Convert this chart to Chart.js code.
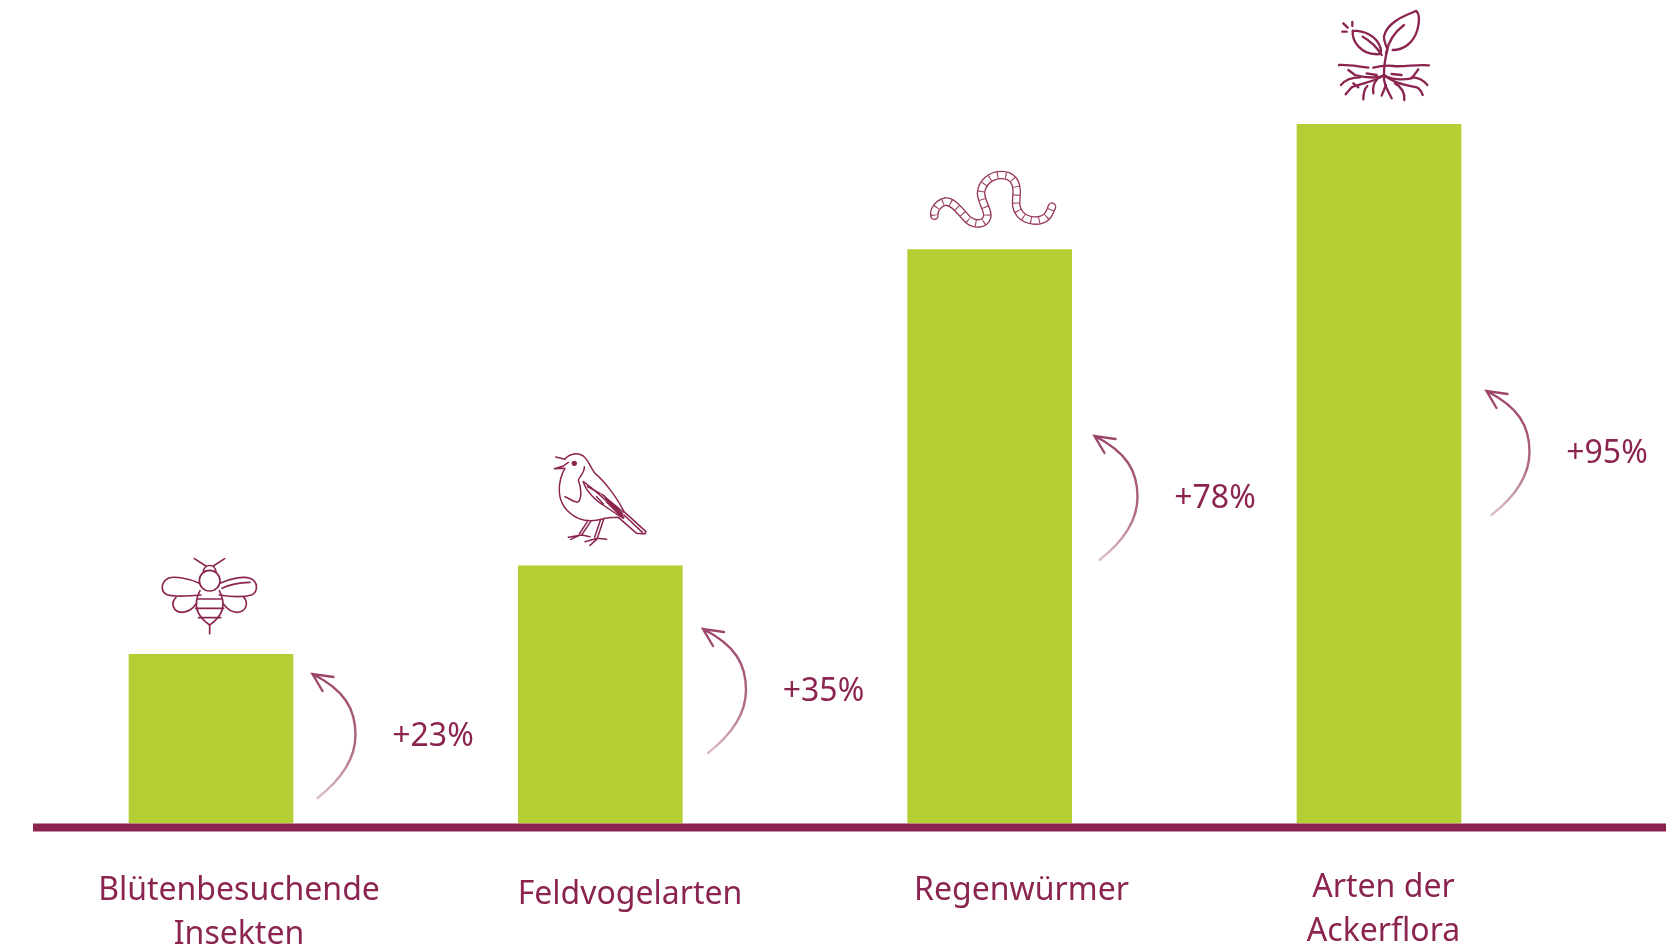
<!DOCTYPE html>
<html>
<head>
<meta charset="utf-8">
<title>Ackerflora</title>
<script src="https://cdn.jsdelivr.net/npm/chart.js@4/dist/chart.umd.js"></script>
<style>
	html, body { margin: 0; padding: 0; background: #fff; overflow: hidden; }
	canvas { display: block; }
</style>
</head>
<body>
<canvas id="barChart" width="1675" height="948"></canvas>
<script>
const categories = [
	['Blütenbesuchende', 'Insekten'],
	['Feldvogelarten'],
	['Regenwürmer'],
	['Arten der', 'Ackerflora']
];
const changeValues = [23, 35, 78, 95];

const wine = '#8b2550';
const green = '#b5ce33';

// text and arrow spots, in page pixels
const categoryLabelX = [239, 630, 1021.5, 1383.5];
const categoryLabelY = [900, 904, 900, 897];
const changeLabelX = [433, 823.5, 1215, 1607];
const changeLabelY = [737, 692, 499, 454];

// icons are traced in 3x crop coordinates, origin is the crop corner
const icons = [
	{
		x: 100, y: 540, width: 5,
		paths: [
			'M283 56 L318 78 M374 56 L340 78',
			'M310 96 C312 70 346 70 348 96',
			'M298 122 a31 31 0 1 0 62 0 a31 31 0 1 0 -62 0',
			'M298 130 C260 112 220 108 205 115 C185 125 180 150 197 162 C215 172 270 168 303 165',
			'M360 130 C390 115 430 108 450 115 C475 125 475 155 455 165 C430 172 390 170 358 165',
			'M366 145 C385 135 410 128 450 127',
			'M228 172 C210 190 220 215 245 217 C265 217 280 205 290 190',
			'M430 170 C448 190 438 215 412 217 C392 217 380 205 370 192',
			'M300 152 C280 190 285 225 329 255 C373 225 378 190 358 152',
			'M293 177 H365 M287 205 H371 M296 233 H362',
			'M329 255 V281'
		]
	},
	{
		x: 500, y: 430, width: 4.5,
		paths: [
			'M167 81 L195 88 C205 72 230 66 250 78 C265 90 270 110 285 130 C310 150 350 200 372 245 L438 305 L435 312 L410 310 L355 262 C340 262 320 262 305 268 C290 272 260 275 235 265 C205 250 180 225 178 185 C176 160 185 130 195 115 L163 116 L190 108 L205 97',
			'M253 110 C255 125 240 140 235 150 C245 175 245 205 235 215 C225 222 210 205 195 200',
			'M250 155 C270 170 300 195 310 205 C330 225 360 250 372 262',
			'M250 155 C255 180 290 215 310 225 C330 240 355 255 370 265',
			'M262 170 L300 190 M290 200 L310 222',
			'M310 195 L368 252 M316 205 L366 256 M320 216 L364 260 M304 192 L370 246',
			'M372 255 L428 308',
			'M272 275 L245 315 L205 322 M245 315 L270 320 M240 315 L212 328',
			'M312 265 L292 325 L255 335 M292 325 L320 328 M290 328 L270 346',
			'M262 275 L238 312 M302 268 L284 322'
		],
		dots: [[223, 100, 8]]
	},
	{
		x: 1280, y: 0, width: 7,
		paths: [
			'M218 92 C250 92 290 105 302 145 C305 160 300 165 285 162 C250 162 215 130 218 92',
			'M248 110 C270 122 290 140 305 165',
			'M408 33 C380 45 320 65 312 110 C310 125 320 135 322 150',
			'M408 33 C420 40 418 70 412 90 C400 130 370 150 338 150',
			'M372 75 C345 95 325 125 318 160',
			'M322 150 C315 175 312 200 312 225',
			'M177 195 C200 192 225 198 265 203',
			'M280 203 C300 198 320 195 340 198 C370 202 410 192 447 196',
			'M312 225 C300 235 260 235 225 225 L205 210',
			'M240 232 C215 232 195 240 183 255',
			'M312 225 C290 245 240 250 215 262 L197 283',
			'M220 250 L235 262',
			'M262 258 C250 270 250 285 250 298',
			'M290 240 C280 250 278 265 280 280',
			'M312 225 C310 250 320 265 335 295',
			'M318 255 L305 287',
			'M312 225 C330 240 370 240 395 235 L415 208',
			'M395 232 C415 232 430 240 442 255',
			'M312 225 C340 250 380 255 410 262 C420 268 425 275 428 285',
			'M345 250 C365 260 375 280 373 300',
			'M260 220 L290 225 M335 222 L365 225',
			'M190 70 L203 83 M217 66 V78 M187 95 H200'
		]
	}
];

const worm = 'M103 197 C100 180 115 160 135 155 C160 152 180 185 205 210 C225 225 255 225 262 200 C265 180 245 160 243 130 C245 95 275 75 305 75 C335 75 350 95 350 125 C350 150 342 170 360 192 C380 215 420 218 440 200 C448 192 452 180 456 170';

function drawIcon(ctx, icon) {
	ctx.save();
	ctx.translate(icon.x, icon.y);
	ctx.scale(1 / 3, 1 / 3);
	ctx.strokeStyle = wine;
	ctx.fillStyle = wine;
	ctx.lineWidth = icon.width;
	ctx.lineCap = 'round';
	ctx.lineJoin = 'round';
	icon.paths.forEach(function(p) {
		ctx.stroke(new Path2D(p));
	});
	(icon.dots || []).forEach(function(d) {
		ctx.beginPath();
		ctx.arc(d[0], d[1], d[2], 0, Math.PI * 2);
		ctx.fill();
	});
	ctx.restore();
}

function drawWorm(ctx) {
	const path = new Path2D(worm);
	ctx.save();
	ctx.translate(900, 150);
	ctx.scale(1 / 3, 1 / 3);
	ctx.lineCap = 'round';
	ctx.lineJoin = 'round';
	ctx.strokeStyle = '#96365f';
	ctx.lineWidth = 26;
	ctx.stroke(path);
	ctx.strokeStyle = '#fff';
	ctx.lineWidth = 18;
	ctx.stroke(path);
	ctx.lineCap = 'butt';
	ctx.strokeStyle = '#a04a6d';
	ctx.lineWidth = 20;
	ctx.setLineDash([3.5, 21]);
	ctx.stroke(path);
	ctx.restore();
}

function drawArrow(ctx, labelX, labelY) {
	const tipX = labelX - 120.5;
	const tipY = labelY - 63;
	const fade = ctx.createLinearGradient(0, tipY, 0, tipY + 124);
	fade.addColorStop(0, 'rgba(139,37,80,0.85)');
	fade.addColorStop(0.6, 'rgba(139,37,80,0.7)');
	fade.addColorStop(1, 'rgba(139,37,80,0.3)');
	ctx.save();
	ctx.strokeStyle = fade;
	ctx.lineWidth = 2.4;
	ctx.lineCap = 'round';
	ctx.beginPath();
	ctx.moveTo(tipX + 5, tipY + 124);
	ctx.bezierCurveTo(tipX + 28, tipY + 106, tipX + 43, tipY + 85, tipX + 43, tipY + 61);
	ctx.bezierCurveTo(tipX + 43, tipY + 35, tipX + 32, tipY + 16, tipX, tipY);
	ctx.moveTo(tipX + 21, tipY + 3);
	ctx.lineTo(tipX, tipY);
	ctx.lineTo(tipX + 10, tipY + 17);
	ctx.stroke();
	ctx.restore();
}

const decorations = {
	id: 'decorations',
	afterDatasetsDraw: function(chart) {
		const ctx = chart.ctx;
		const baseY = chart.scales.y.getPixelForValue(0);

		// baseline runs wider than the bars
		ctx.fillStyle = wine;
		ctx.fillRect(33, baseY, 1633, 8);

		ctx.font = '32px "Noto Sans"';
		ctx.textAlign = 'center';
		ctx.textBaseline = 'alphabetic';
		categories.forEach(function(lines, i) {
			lines.forEach(function(line, n) {
				ctx.fillText(line, categoryLabelX[i], categoryLabelY[i] + n * 44);
			});
		});

		ctx.textBaseline = 'middle';
		changeValues.forEach(function(v, i) {
			ctx.fillStyle = wine;
			ctx.fillText('+' + v + '%', changeLabelX[i], changeLabelY[i]);
			drawArrow(ctx, changeLabelX[i], changeLabelY[i]);
		});

		icons.forEach(function(icon) {
			drawIcon(ctx, icon);
		});
		drawWorm(ctx);
	}
};

new Chart(document.getElementById('barChart'), {
	type: 'bar',
	data: {
		labels: categories,
		datasets: [{
			data: changeValues,
			backgroundColor: green,
			borderWidth: 0,
			barThickness: 164
		}]
	},
	options: {
		responsive: false,
		animation: false,
		layout: {
			padding: { left: 16.3, right: 101.3, top: 14, bottom: 124.5 }
		},
		plugins: {
			legend: { display: false },
			tooltip: { enabled: false }
		},
		scales: {
			x: { display: false },
			y: { display: false, min: 0, max: 110 }
		}
	},
	plugins: [decorations]
});
</script>
</body>
</html>
